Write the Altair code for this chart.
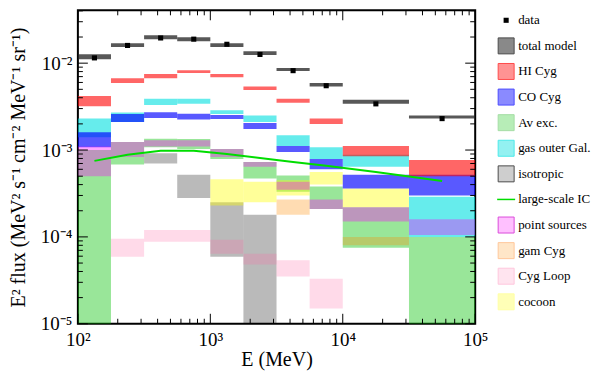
import altair as alt
import pandas as pd

# ---------------- data ----------------
E_EDGES = [100, 177.8, 316.2, 562.3, 1000, 1778, 3162, 5623, 10000, 31623, 100000]

DATA_FLUX = [0.0115, 0.0160, 0.0195, 0.0189, 0.0165, 0.0126, 0.0082, 0.0055, 0.0034, 0.0023]

TOTAL_LO = [0.0111, 0.0153, 0.0189, 0.0179, 0.0153, 0.0124, 0.0081, 0.0054, 0.0034, 0.0023]
TOTAL_HI = [0.0127, 0.0170, 0.0210, 0.0199, 0.0170, 0.0137, 0.0088, 0.0059, 0.0038, 0.0025]

HI_LO = [0.0032, 0.0059, 0.0067, 0.0077, 0.0069, 0.0049, 0.0035, 0.0020, 0.00085, 0.00050]
HI_HI = [0.0042, 0.0067, 0.0075, 0.0083, 0.0075, 0.0054, 0.0039, 0.0023, 0.00111, 0.00077]

CO_LO = [0.00108, 0.0021, 0.00233, 0.00225, 0.00228, 0.00175, 0.00095, 0.00060, 0.00036, 0.00030]
CO_HI = [0.0016, 0.0026, 0.00273, 0.00261, 0.00253, 0.00205, 0.00111, 0.00079, 0.00052, 0.00052]

OUTER_LO = [0.0014, 0.0021, 0.0033, 0.0034, 0.0026, 0.0021, 0.00111, 0.00079, 0.00064, 0.00010]
OUTER_HI = [0.0023, 0.0027, 0.0039, 0.0039, 0.00287, 0.0025, 0.00148, 0.00108, 0.00088, 0.00029]

AV_LO = [3e-6, 0.00068, 0.00108, 0.00103, 0.00079, 0.00047, 0.00033, 0.00021, 7.5e-5, 3e-6]
AV_HI = [0.0010, 0.00124, 0.00135, 0.00134, 0.00103, 0.00073, 0.00051, 0.00038, 0.00022, 0.00010]

ISO_LO = [None, None, 0.00070, 0.00028, 5.9e-5, 3e-6, None, None, None, None]
ISO_HI = [None, None, 0.00092, 0.00052, 0.00025, 0.00018, None, None, None, None]

PS_LO = [0.0005, 0.00083, 0.0011, 0.0011, 0.00083, 0.00064, 0.00035, 0.00021, 0.00015, 0.000105]
PS_HI = [0.0011, 0.00124, 0.0013, 0.0013, 0.00103, 0.00073, 0.00043, 0.00027, 0.00022, 0.00016]

GAM_LO = [None, None, None, None, None, None, 0.00018, None, 8.0e-5, None]
GAM_HI = [None, None, None, None, None, None, 0.00027, None, 1.0e-4, None]

LOOP_LO = [None, 5.9e-5, 8.8e-5, 8.8e-5, 6.4e-5, 4.8e-5, 3.5e-5, 1.5e-5, None, None]
LOOP_HI = [None, 9.5e-5, 1.2e-4, 1.2e-4, 9.3e-5, 6.4e-5, 5.4e-5, 3.3e-5, None, None]

COCOON_LO = [None, None, None, None, 0.00023, 0.00025, 0.00030, 0.00040, 0.00022, None]
COCOON_HI = [None, None, None, None, 0.00046, 0.00043, 0.00045, 0.00056, 0.00036, None]

IC_FLUX = [0.00075, 0.00088, 0.00098, 0.00098, 0.00090, 0.00081, 0.00073, 0.00066, 0.00056, 0.00044]

# draw order of the bands
COMP_NAMES = ["Av exc.", "isotropic", "Cyg Loop", "gam Cyg", "cocoon", "gas outer Gal.",
              "CO Cyg", "HI Cyg", "point sources", "total model"]
COMP_LO = [AV_LO, ISO_LO, LOOP_LO, GAM_LO, COCOON_LO, OUTER_LO, CO_LO, HI_LO, PS_LO, TOTAL_LO]
COMP_HI = [AV_HI, ISO_HI, LOOP_HI, GAM_HI, COCOON_HI, OUTER_HI, CO_HI, HI_HI, PS_HI, TOTAL_HI]

# legend entries
LEGEND_NAMES = ["data", "total model", "HI Cyg", "CO Cyg", "Av exc.", "gas outer Gal.",
                "isotropic", "large-scale IC", "point sources", "gam Cyg", "Cyg Loop", "cocoon"]
LEGEND_FILL = ["#000000", "#202020", "#ff0000", "#0000ff", "#00c000", "#00e0e0",
               "#000000", "#00dd00", "#ff00ff", "#ff8c00", "#ff6aa8", "#ffff00"]
LEGEND_OPAC = [1.0, 0.75, 0.6, 0.65, 0.4, 0.6, 0.27, 1.0, 0.35, 0.3, 0.25, 0.4]
LEGEND_STROKE = ["#000000", "#000000", "#ff0000", "#0000ff", "#80d080", "#00e0e0",
                 "#000000", "#00dd00", "#cc00cc", "#ffb070", "#ffb0d0", "#ffff80"]

Y_MAJOR = [1e-5, 1e-4, 1e-3, 1e-2]
X_MAJOR = [100, 1000, 10000, 100000]
Y_MINOR = [k * 10.0 ** n for n in (-5, -4, -3, -2) for k in range(2, 10) if k * 10.0 ** n < 0.0406]
X_MINOR = [k * 10.0 ** n for n in (2, 3, 4) for k in range(2, 10)]

# ---------------- tables ----------------
rows = []
for name, lo, hi in zip(COMP_NAMES, COMP_LO, COMP_HI):
    for i in range(10):
        if lo[i] is not None:
            rows.append({"comp": name, "e_lo": E_EDGES[i], "e_hi": E_EDGES[i + 1],
                         "lo": lo[i], "hi": hi[i]})
bands = pd.DataFrame(rows)

centers = [(E_EDGES[i] * E_EDGES[i + 1]) ** 0.5 for i in range(10)]
pts = pd.DataFrame({"e": centers, "flux": DATA_FLUX, "ic": IC_FLUX})

W, H = 398, 314
FONT = "Liberation Serif"

x_scale = alt.Scale(type="log", domain=[100, 100000], nice=False)
y_scale = alt.Scale(type="log", domain=[1e-5, 0.0406], nice=False)

col_map = dict(zip(LEGEND_NAMES, LEGEND_FILL))
op_map = dict(zip(LEGEND_NAMES, LEGEND_OPAC))

x_axis = alt.Axis(values=X_MAJOR, ticks=False, domain=False, grid=False,
                  labelExpr="datum.value < 500 ? '10²' : datum.value < 5000 ? '10³' : datum.value < 50000 ? '10⁴' : '10⁵'",
                  labelFont=FONT, labelFontSize=19, labelColor="black", labelPadding=7,
                  labelFlush=False, title="E (MeV)", titleFont=FONT, titleFontSize=20,
                  titleFontWeight="normal", titleColor="black", titlePadding=0)
y_axis = alt.Axis(values=Y_MAJOR, ticks=False, domain=False, grid=False,
                  labelExpr="datum.value < 5e-5 ? '10⁻⁵' : datum.value < 5e-4 ? '10⁻⁴' : datum.value < 5e-3 ? '10⁻³' : '10⁻²'",
                  labelFont=FONT, labelFontSize=19, labelColor="black", labelPadding=6,
                  minExtent=40, maxExtent=40,
                  title="E² flux (MeV² s⁻¹ cm⁻² MeV⁻¹ sr⁻¹)", titleFont=FONT, titleFontSize=20,
                  titleFontWeight="normal", titleColor="black", titlePadding=9)

def X(field):
    return alt.X(field, scale=x_scale, axis=x_axis)

def Y(field):
    return alt.Y(field, scale=y_scale, axis=y_axis)

rects = alt.Chart(bands).mark_rect(clip=True).encode(
    x=X("e_lo:Q"),
    x2="e_hi:Q",
    y=Y("lo:Q"),
    y2="hi:Q",
    color=alt.Color("comp:N", scale=alt.Scale(domain=COMP_NAMES,
                    range=[col_map[c] for c in COMP_NAMES]), legend=None),
    fillOpacity=alt.FillOpacity("comp:N", scale=alt.Scale(type="ordinal", domain=COMP_NAMES,
                    range=[op_map[c] for c in COMP_NAMES]), legend=None),
)

ic_line = alt.Chart(pts).mark_line(color="#00dd00", strokeWidth=2, clip=True).encode(
    x=X("e:Q"), y=Y("ic:Q"),
)

dots = alt.Chart(pts).mark_square(color="black", size=26, opacity=1).encode(
    x=X("e:Q"), y=Y("flux:Q"),
)

def yticks(vals, x0, x1):
    return alt.Chart(pd.DataFrame({"v": vals})).mark_rule(color="black", strokeWidth=1).encode(
        y=Y("v:Q"), x=alt.value(x0), x2=alt.value(x1))

def xticks(vals, y0, y1):
    return alt.Chart(pd.DataFrame({"v": vals})).mark_rule(color="black", strokeWidth=1).encode(
        x=X("v:Q"), y=alt.value(y0), y2=alt.value(y1))

ticks = [
    yticks(Y_MAJOR, 0, 10), yticks(Y_MINOR, 0, 5),
    yticks(Y_MAJOR, W - 10, W), yticks(Y_MINOR, W - 5, W),
    xticks(X_MAJOR, H - 10, H), xticks(X_MINOR, H - 5, H),
    xticks(X_MAJOR, 0, 10), xticks(X_MINOR, 0, 5),
]

main = alt.layer(rects, ic_line, dots, *ticks).properties(
    width=W, height=H, view=alt.ViewBackground(stroke="black", strokeWidth=2))

# ---------------- legend panel ----------------
leg = pd.DataFrame({"name": LEGEND_NAMES, "idx": list(range(len(LEGEND_NAMES)))})
leg_y = alt.Scale(domain=[-0.39, 11.858], reverse=True)
fill_sc = alt.Scale(domain=LEGEND_NAMES, range=LEGEND_FILL)
op_sc = alt.Scale(type="ordinal", domain=LEGEND_NAMES, range=LEGEND_OPAC)
str_sc = alt.Scale(domain=LEGEND_NAMES, range=LEGEND_STROKE)

boxes = alt.Chart(leg).transform_filter(
    "datum.name != 'data' && datum.name != 'large-scale IC'"
).mark_square(size=256, filled=True, strokeWidth=1, strokeOpacity=1).encode(
    x=alt.value(21),
    y=alt.Y("idx:Q", scale=leg_y, axis=None),
    color=alt.Color("name:N", scale=fill_sc, legend=None),
    fillOpacity=alt.FillOpacity("name:N", scale=op_sc, legend=None),
    stroke=alt.Stroke("name:N", scale=str_sc, legend=None),
)
data_sym = alt.Chart(leg).transform_filter("datum.name == 'data'").mark_square(
    size=26, color="black", opacity=1).encode(
    x=alt.value(21), y=alt.Y("idx:Q", scale=leg_y, axis=None))
ic_sym = alt.Chart(leg).transform_filter("datum.name == 'large-scale IC'").mark_rule(
    color="#00dd00", strokeWidth=1.5).encode(
    x=alt.value(12), x2=alt.value(30), y=alt.Y("idx:Q", scale=leg_y, axis=None))
labels = alt.Chart(leg).mark_text(align="left", baseline="middle", font=FONT,
                                  fontSize=13, color="black").encode(
    x=alt.value(33), y=alt.Y("idx:Q", scale=leg_y, axis=None), text="name:N")

legend = alt.layer(boxes, data_sym, ic_sym, labels).properties(
    width=100, height=H, view=alt.ViewBackground(stroke="transparent"))

chart = alt.hconcat(main, legend, spacing=10, bounds="flush").properties(
    padding={"left": 0, "top": 0, "right": 0, "bottom": 0}
).configure_view(stroke="transparent")

chart.save("out.html", embed_options={"renderer": "svg", "actions": False})
